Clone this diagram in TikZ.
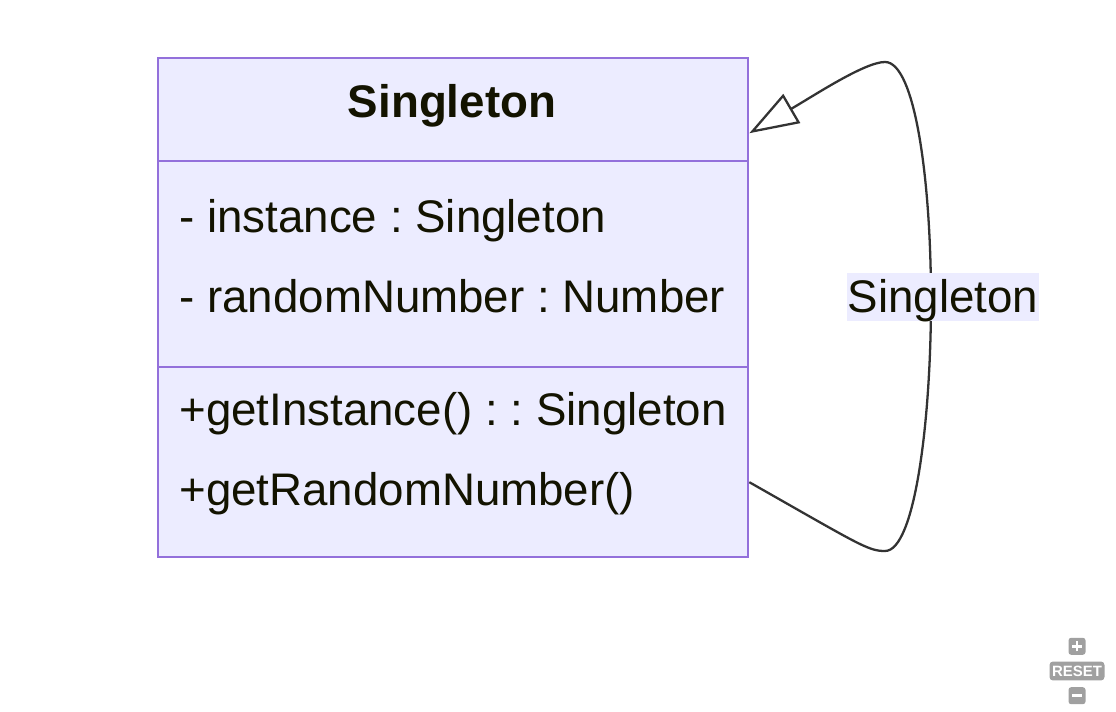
\documentclass[tikz,border=0pt]{standalone}
\usepackage{fontspec}
\setmainfont{Liberation Sans}
\usepackage{tikz}
\usetikzlibrary{arrows.meta,positioning}
\definecolor{clsfill}{HTML}{ECECFF}
\definecolor{clsline}{HTML}{9370DB}
\definecolor{clstext}{HTML}{131300}
\definecolor{edgeink}{HTML}{333333}
\definecolor{ctlgray}{HTML}{A0A0A0}
\frenchspacing

\begin{document}
\begin{tikzpicture}[x=0.02cm,y=-0.02cm,
  section/.style={draw=clsline,fill=clsfill,line width=1.4pt,
    minimum width=11.8cm,inner sep=0pt,anchor=north west},
  member/.style={anchor=base west,inner sep=0pt,text=clstext,
    font=\fontsize{26}{31}\selectfont},
  edgelabel/.style={fill=clsfill,text=clstext,inner sep=0pt,
    minimum width=3.84cm,minimum height=0.96cm,
    text height=22.4pt,text depth=5.2pt,
    font=\fontsize{26}{31}\selectfont},
  ctlicon/.style={fill=ctlgray,rounded corners=1.5pt,minimum size=0.34cm,inner sep=0pt},
  selfedge/.style={draw=edgeink,line width=1.3pt,
    -{Triangle[fill=white,length=28pt,width=19pt,line width=1.3pt]}},
  >=Latex
]
\useasboundingbox (0,0) rectangle (1116,712);

% class box
\node[section,minimum height=2.06cm] (title) at (157,57) {};
\node[section,minimum height=4.12cm] (attrs) at (157,160) {};
\node[section,minimum height=3.8cm] (meths) at (157,366) {};
\node[member,anchor=base,font=\fontsize{26}{31}\selectfont\bfseries] (name) at (452,118) {Singleton};
\node[member] (attr1) at (179,233) {- instance : Singleton};
\node[member] (attr2) at (179,313) {- randomNumber : Number};
\node[member] (meth1) at (179,426) {+getInstance() : : Singleton};
\node[member] (meth2) at (179,506) {+getRandomNumber()};

% self association
\draw[selfedge] ([yshift=-0.4cm]meths.east)
  .. controls (860,545) and (868,551) .. (885,551)
  .. controls (915,551) and (931,420) .. (931,300)
  .. controls (931,180) and (915,62) .. (885,62)
  .. controls (865,62) and (815,95) .. ([yshift=-0.47cm]title.east);
\node[edgelabel] (assoc) at (943,297) {Singleton};

% zoom controls
\node[fill=ctlgray,rounded corners=2pt,text=white,inner sep=0pt,
  minimum width=1.1cm,minimum height=0.38cm,
  font=\fontsize{8.5}{10}\selectfont\bfseries] (reset) at (1077,671) {RESET};
\node[ctlicon,above=0.12cm of reset] (zoomin) {};
\node[ctlicon,below=0.12cm of reset] (zoomout) {};
\draw[white,line width=1.6pt] ([xshift=-0.1cm]zoomin.center) -- ([xshift=0.1cm]zoomin.center);
\draw[white,line width=1.6pt] ([yshift=-0.1cm]zoomin.center) -- ([yshift=0.1cm]zoomin.center);
\draw[white,line width=1.6pt] ([xshift=-0.1cm]zoomout.center) -- ([xshift=0.1cm]zoomout.center);
\end{tikzpicture}
\end{document}
